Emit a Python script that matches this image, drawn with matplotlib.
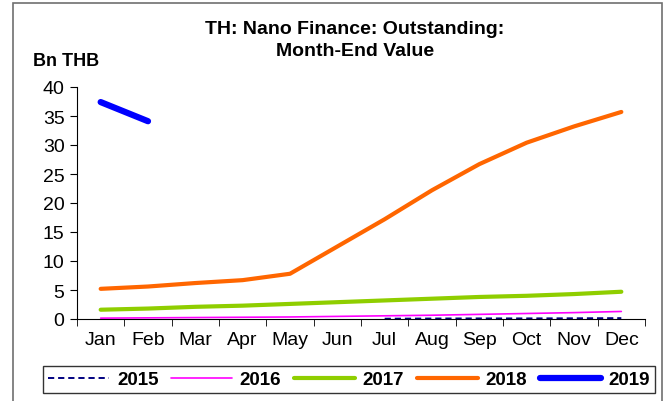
import numpy as np
from matplotlib import pyplot as plt
from matplotlib.patches import Rectangle

months = ["Jan", "Feb", "Mar", "Apr", "May", "Jun", "Jul", "Aug", "Sep", "Oct", "Nov", "Dec"]
y2015 = [None, None, None, None, None, None, 0.05, 0.08, 0.1, 0.1, 0.12, 0.15]
y2016 = [0.15, 0.2, 0.25, 0.3, 0.35, 0.45, 0.55, 0.65, 0.8, 0.95, 1.1, 1.3]
y2017 = [1.6, 1.8, 2.1, 2.3, 2.6, 2.9, 3.2, 3.5, 3.8, 4.0, 4.3, 4.7]
y2018 = [5.2, 5.6, 6.2, 6.7, 7.8, 12.5, 17.2, 22.2, 26.7, 30.4, 33.2, 35.7]
y2019 = [37.4, 34.1]

series = [
    ("2015", y2015, "#000080", 1.4, (0, (3.2, 2.0))),
    ("2016", y2016, "#ff00ff", 1.2, "-"),
    ("2017", y2017, "#8fce00", 3.0, "-"),
    ("2018", y2018, "#ff6600", 3.0, "-"),
    ("2019", y2019, "#0000ff", 4.5, "-"),
]

plt.rcParams["font.family"] = ["Liberation Sans", "DejaVu Sans"]
fig = plt.figure(figsize=(6.70, 4.02), dpi=100)

# outer frame (bottom edge runs off the image)
fig.patches.append(Rectangle((13 / 670, -0.05), 649 / 670, 1.05 - 4 / 402, transform=fig.transFigure,
                             fill=False, edgecolor="#707070", linewidth=1.2))

ax = fig.add_axes([77 / 670, (402 - 320) / 402, 568 / 670, 232 / 402])
x = np.arange(len(months))
for name, vals, color, lw, ls in series:
    v = np.array([np.nan if a is None else a for a in vals], dtype=float)
    ax.plot(x[:len(v)], v, color=color, linewidth=lw, linestyle=ls, label=name,
            solid_capstyle="round")

ax.set_xlim(-0.5, 11.5)
ax.set_ylim(0, 40)
ax.set_yticks(range(0, 41, 5))
ax.set_xticks(x)
ax.set_xticklabels(months, fontsize=14)
ax.set_xticks(np.arange(-0.5, 12, 1), minor=True)
ax.tick_params(axis="x", which="major", length=0, pad=9)
ax.tick_params(axis="x", which="minor", length=5, direction="out")
ax.tick_params(axis="y", labelsize=14, length=5, direction="out", pad=4)
ax.spines["top"].set_visible(False)
ax.spines["right"].set_visible(False)

fig.text(355 / 670, 1 - 40.5 / 402, "TH: Nano Finance: Outstanding:\nMonth-End Value", ha="center",
         va="center", fontsize=14, fontweight="bold", linespacing=1.4)
fig.text(33 / 670, 1 - 62 / 402, "Bn THB", ha="left", va="center", fontsize=13, fontweight="bold")

leg = fig.legend(loc="center", bbox_to_anchor=(349 / 670, 1 - 380.5 / 402), ncol=5, frameon=True,
                 fancybox=False, edgecolor="black", handlelength=3.25, columnspacing=0.66,
                 handletextpad=0.43, borderpad=0.25, borderaxespad=0,
                 prop={"weight": "bold", "size": 13.5})
leg.get_frame().set_linewidth(1.0)

fig.savefig("out.png", dpi=100)
